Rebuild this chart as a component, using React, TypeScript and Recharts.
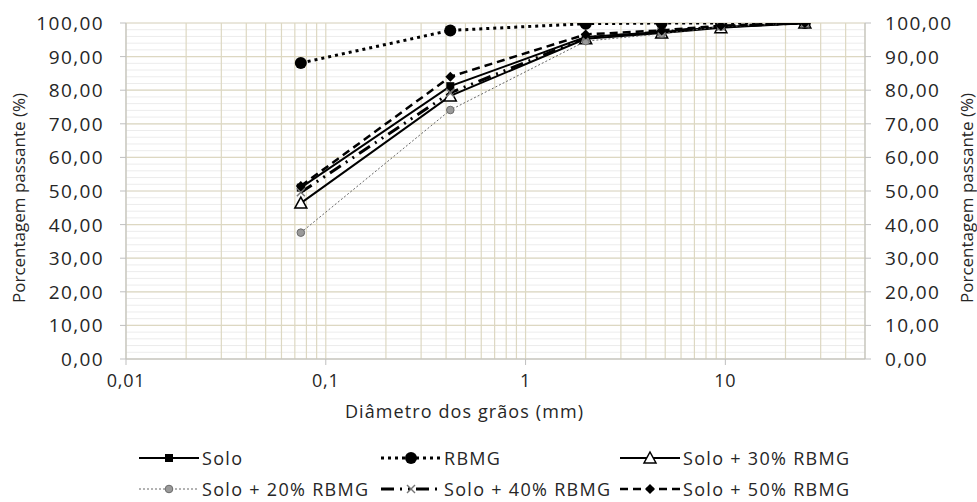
import React from 'react';
import { LineChart, Line, XAxis, YAxis, CartesianGrid, Legend } from 'recharts';

const diameters = [0.075, 0.42, 2.0, 4.8, 9.5, 25];
const solo = [51.0, 81.2, 95.8, 97.3, 98.8, 100];
const rbmg = [88.1, 97.8, 99.8, 100, 100, 100];
const solo30 = [46.4, 78.3, 95.3, 97.0, 98.6, 100];
const solo20 = [37.6, 74.1, 94.6, 96.8, 98.9, 100];
const solo40 = [49.6, 79.2, 95.6, 97.3, 99.0, 100];
const solo50 = [51.5, 84.0, 96.6, 97.8, 99.2, 100];

const xTicks = [0.01, 0.1, 1, 10];
const xGrid = [0.01, 0.02, 0.03, 0.04, 0.05, 0.06, 0.07, 0.08, 0.09, 0.1, 0.2, 0.3, 0.4, 0.5, 0.6, 0.7, 0.8, 0.9, 1, 2, 3, 4, 5, 6, 7, 8, 9, 10, 20, 30, 40];
const yTicks = [0, 10, 20, 30, 40, 50, 60, 70, 80, 90, 100];
const yMinor = [0, 2, 4, 6, 8, 10, 12, 14, 16, 18, 20, 22, 24, 26, 28, 30, 32, 34, 36, 38, 40, 42, 44, 46, 48, 50, 52, 54, 56, 58, 60, 62, 64, 66, 68, 70, 72, 74, 76, 78, 80, 82, 84, 86, 88, 90, 92, 94, 96, 98, 100];

const data = diameters.map((d, i) => ({
  d,
  solo: solo[i],
  rbmg: rbmg[i],
  solo30: solo30[i],
  solo20: solo20[i],
  solo40: solo40[i],
  solo50: solo50[i],
}));

const FONT = '"Open Sans", sans-serif';
const TXT = '#262626';
const BEIGE = '#ddd8c2';
const MINOR = '#ececec';
const AXIS = '#bfbfbf';

const fmtY = (v: number) => v.toFixed(2).replace('.', ',');
const fmtX = (v: number) => String(v).replace('.', ',');

type M = { cx: number; cy: number };
const Square = ({ cx, cy }: M) => <rect x={cx - 4} y={cy - 4} width={8} height={8} fill="#000" />;
const Circle = ({ cx, cy }: M) => <circle cx={cx} cy={cy} r={6} fill="#000" />;
const Tri = ({ cx, cy }: M) => (
  <polygon points={`${cx},${cy - 6} ${cx + 6},${cy + 5} ${cx - 6},${cy + 5}`} fill="#fff" stroke="#000" strokeWidth={1.5} />
);
const Small = ({ cx, cy }: M) => <circle cx={cx} cy={cy} r={3.8} fill="#9a9a9a" stroke="#6a6a6a" strokeWidth={1} />;
const Cross = ({ cx, cy }: M) => (
  <g stroke="#777" strokeWidth={1.5}>
    <line x1={cx - 4} y1={cy - 4} x2={cx + 4} y2={cy + 4} />
    <line x1={cx - 4} y1={cy + 4} x2={cx + 4} y2={cy - 4} />
  </g>
);
const Diamond = ({ cx, cy }: M) => (
  <polygon points={`${cx},${cy - 5} ${cx + 5},${cy} ${cx},${cy + 5} ${cx - 5},${cy}`} fill="#000" />
);

const series = [
  { key: 'solo', name: 'Solo', stroke: '#000', width: 2, dash: undefined as string | undefined, Marker: Square },
  { key: 'rbmg', name: 'RBMG', stroke: '#000', width: 3, dash: '3 4', Marker: Circle },
  { key: 'solo30', name: 'Solo + 30% RBMG', stroke: '#000', width: 2, dash: undefined, Marker: Tri },
  { key: 'solo20', name: 'Solo + 20% RBMG', stroke: '#666', width: 1, dash: '2 2', Marker: Small },
  { key: 'solo40', name: 'Solo + 40% RBMG', stroke: '#000', width: 3, dash: '13 6 2 6 2 6', Marker: Cross },
  { key: 'solo50', name: 'Solo + 50% RBMG', stroke: '#000', width: 2.5, dash: '8 5', Marker: Diamond },
];

const legendPos = [
  { left: 139, top: 28 },
  { left: 381, top: 28 },
  { left: 620, top: 28 },
  { left: 139, top: 59 },
  { left: 381, top: 59 },
  { left: 620, top: 59 },
];

const LegendContent = () => (
  <div style={{ position: 'relative', width: 977, height: 83, fontFamily: FONT, fontSize: 18, letterSpacing: 1.3, color: TXT }}>
    {series.map((s, i) => {
      const M = s.Marker;
      return (
        <div key={s.key} style={{ position: 'absolute', left: legendPos[i].left, top: legendPos[i].top, display: 'flex', alignItems: 'center', height: 22, whiteSpace: 'nowrap' }}>
          <svg width={60} height={22} style={{ display: 'block' }}>
            <line x1={0} y1={11} x2={60} y2={11} stroke={s.stroke} strokeWidth={s.width} strokeDasharray={s.dash} />
            <M cx={30} cy={11} />
          </svg>
          <span style={{ marginLeft: 3 }}>{s.name}</span>
        </div>
      );
    })}
  </div>
);

const LeftTitle = (props: any) => {
  const vb = props.viewBox;
  const x = vb.x + 18;
  const y = vb.y + vb.height / 2 + 7;
  return (
    <text x={x} y={y} transform={`rotate(-90 ${x} ${y})`} textAnchor="middle" dominantBaseline="central" fontFamily={FONT} fontSize={17} fill={TXT}>
      Porcentagem passante (%)
    </text>
  );
};
const RightTitle = (props: any) => {
  const vb = props.viewBox;
  const x = vb.x + 101;
  const y = vb.y + vb.height / 2 + 7;
  return (
    <text x={x} y={y} transform={`rotate(-90 ${x} ${y})`} textAnchor="middle" dominantBaseline="central" fontFamily={FONT} fontSize={17} fill={TXT}>
      Porcentagem passante (%)
    </text>
  );
};
const XTitle = (props: any) => {
  const vb = props.viewBox;
  return (
    <text x={vb.x + vb.width / 2 - 31} y={vb.y + 52} textAnchor="middle" dominantBaseline="central" fontFamily={FONT} fontSize={18} letterSpacing={1.1} fill={TXT}>
      Diâmetro dos grãos (mm)
    </text>
  );
};

const YTick = (props: any) => {
  const { x, y, payload, textAnchor } = props;
  return (
    <text x={x} y={y} textAnchor={textAnchor} dominantBaseline="central" fontFamily={FONT} fontSize={19} letterSpacing={1.4} fill={TXT}>
      {fmtY(payload.value)}
    </text>
  );
};
const XTick = (props: any) => {
  const { x, y, payload } = props;
  return (
    <text x={x} y={y + 9} textAnchor="middle" dominantBaseline="central" fontFamily={FONT} fontSize={18} letterSpacing={0.8} fill={TXT}>
      {fmtX(payload.value)}
    </text>
  );
};

export default function App() {
  return (
    <div style={{ position: 'absolute', left: 0, top: 0, background: '#fff' }}>
      <LineChart width={977} height={502} data={data} margin={{ top: 23, right: 0, bottom: 0, left: 0 }}>
        <XAxis xAxisId="grid" dataKey="d" type="number" scale="log" domain={[0.01, 50]} allowDataOverflow ticks={xGrid} interval={0} height={0} hide />
        <YAxis yAxisId="minor" type="number" domain={[0, 100]} allowDataOverflow ticks={yMinor} interval={0} width={0} hide />
        <CartesianGrid xAxisId="grid" yAxisId="minor" vertical={false} stroke={MINOR} strokeWidth={1} />
        <CartesianGrid xAxisId="grid" yAxisId="left" stroke={BEIGE} strokeWidth={1.2} />
        <XAxis
          xAxisId="main"
          dataKey="d"
          type="number"
          scale="log"
          domain={[0.01, 50]}
          allowDataOverflow
          ticks={xTicks}
          interval={0}
          height={60}
          tickSize={6}
          tickMargin={6}
          stroke={AXIS}
          tick={<XTick />}
          label={<XTitle />}
        />
        <YAxis
          yAxisId="left"
          type="number"
          domain={[0, 100]}
          allowDataOverflow
          ticks={yTicks}
          interval={0}
          width={126}
          tickSize={6}
          tickMargin={16}
          stroke={AXIS}
          tick={<YTick />}
          label={<LeftTitle />}
        />
        <YAxis
          yAxisId="right"
          orientation="right"
          type="number"
          domain={[0, 100]}
          allowDataOverflow
          ticks={yTicks}
          interval={0}
          width={112}
          tickSize={6}
          tickMargin={14}
          stroke={AXIS}
          tick={<YTick />}
          label={<RightTitle />}
        />
        <Legend content={<LegendContent />} wrapperStyle={{ left: 0, top: 419, width: 977, height: 83 }} />
        {series.map((s) => {
          const M = s.Marker;
          return (
            <Line
              key={s.key}
              xAxisId="main"
              yAxisId="left"
              dataKey={s.key}
              name={s.name}
              type="linear"
              stroke={s.stroke}
              strokeWidth={s.width}
              strokeDasharray={s.dash}
              isAnimationActive={false}
              dot={(p: any) => <M key={`${s.key}-${p.index}`} cx={p.cx} cy={p.cy} />}
              activeDot={false}
            />
          );
        })}
      </LineChart>
    </div>
  );
}
